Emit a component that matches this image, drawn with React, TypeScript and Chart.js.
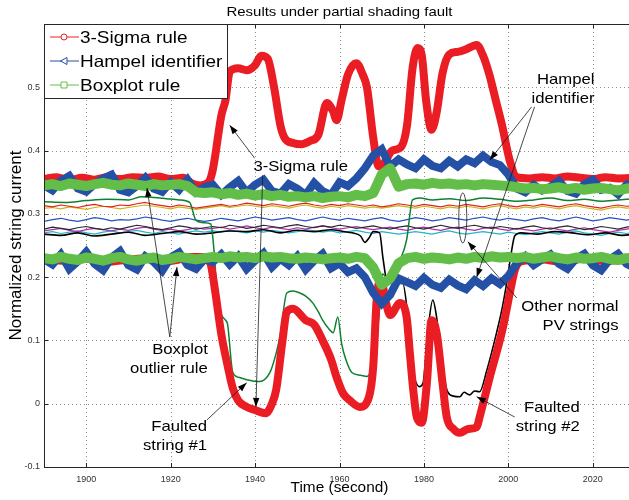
import React, { useEffect, useRef } from "react";
import { Chart, registerables } from "chart.js";

Chart.register(...registerables);

// ---------- shared 2-second time grid ----------
const seconds = [
  1890, 1892, 1894, 1896, 1898, 1900, 1902, 1904, 1906, 1908,
  1910, 1912, 1914, 1916, 1918, 1920, 1922, 1924, 1926, 1928,
  1930, 1932, 1934, 1936, 1938, 1940, 1942, 1944, 1946, 1948,
  1950, 1952, 1954, 1956, 1958, 1960, 1962, 1964, 1966, 1968,
  1970, 1972, 1974, 1976, 1978, 1980, 1982, 1984, 1986, 1988,
  1990, 1992, 1994, 1996, 1998, 2000, 2002, 2004, 2006, 2008,
  2010, 2012, 2014, 2016, 2018, 2020, 2022, 2024, 2026, 2028,
  2030,
];

// Boxplot rule bounds
const boxUpper = [
  .345, .347, .344, .348, .346, .344, .347, .349, .346, .345,
  .348, .346, .344, .347, .345, .346, .347, .344, .334, .333,
  .334, .331, .333, .330, .332, .329, .331, .328, .330, .327,
  .328, .326, .328, .325, .327, .328, .326, .330, .328, .333,
  .362, .372, .343, .347, .348, .346, .349, .347, .348, .346,
  .347, .345, .347, .346, .345, .344, .342, .340, .341, .339,
  .340, .342, .339, .341, .338, .340, .341, .339, .337, .340,
  .341,
];
const boxLower = [
  .230, .228, .232, .229, .227, .231, .229, .226, .230, .232,
  .228, .226, .229, .231, .227, .229, .232, .230, .228, .230,
  .232, .230, .233, .231, .232, .230, .233, .231, .232, .230,
  .229, .231, .230, .228, .230, .231, .229, .232, .230, .215,
  .188, .198, .222, .230, .232, .229, .231, .230, .228, .231,
  .229, .232, .230, .233, .231, .232, .230, .232, .229, .231,
  .233, .230, .228, .231, .229, .230, .232, .229, .227, .230,
  .231,
];

// Hampel identifier bounds
const hampelUpper = [
  .345, .337, .352, .360, .340, .335, .347, .356, .362, .338,
  .334, .344, .357, .340, .335, .350, .338, .354, .334, .342,
  .346, .330, .342, .352, .334, .346, .354, .336, .332, .347,
  .340, .330, .349, .336, .330, .350, .344, .356, .372, .392,
  .402, .375, .386, .378, .372, .386, .376, .372, .384, .375,
  .386, .380, .392, .382, .377, .362, .340, .334, .346, .337,
  .343, .352, .336, .332, .347, .354, .338, .341, .331, .346,
  .350,
];
const hampelLower = [
  .228, .220, .236, .213, .225, .240, .221, .211, .231, .241,
  .219, .212, .233, .224, .210, .231, .239, .219, .213, .228,
  .224, .236, .220, .233, .213, .226, .238, .216, .229, .219,
  .233, .212, .226, .237, .214, .222, .208, .214, .200, .175,
  .158, .172, .198, .192, .186, .199, .188, .183, .196, .187,
  .181, .195, .186, .198, .189, .202, .222, .233, .219, .228,
  .236, .221, .213, .229, .237, .219, .211, .228, .237, .221,
  .214,
];

// 3-Sigma rule bounds (own time knots)
const sigmaUpperTimes = [
  1890, 1893, 1896, 1899, 1902, 1905, 1908, 1911, 1914, 1917,
  1920, 1923, 1925, 1927, 1929, 1930, 1932, 1933, 1934, 1936,
  1938, 1940, 1941.5, 1943, 1944.5, 1946, 1947, 1949, 1951, 1953,
  1955, 1957, 1958.5, 1959.3, 1960.5, 1962, 1964, 1965.5, 1966.5, 1968,
  1969.3, 1970.5, 1972.5, 1974.5, 1976, 1977.3, 1978.5, 1979.5, 1980.5, 1981.8,
  1983, 1984.4, 1986, 1988, 1990, 1992.5, 1994, 1995.5, 1997, 1998.5,
  2000.3, 2002, 2005, 2008, 2011, 2014, 2017, 2020, 2023, 2026,
  2030,
];
const sigmaUpperValues = [
  .355, .358, .353, .357, .354, .358, .355, .358, .357, .359,
  .355, .357, .348, .345, .350, .370, .455, .480, .525, .530,
  .527, .535, .550, .545, .500, .440, .420, .412, .410, .415,
  .425, .475, .462, .448, .480, .520, .538, .520, .500, .420,
  .375, .380, .400, .405, .440, .530, .562, .550, .480, .433,
  .460, .522, .552, .556, .560, .567, .550, .520, .480, .440,
  .385, .358, .356, .358, .356, .359, .357, .355, .358, .356,
  .357,
];
const sigmaLowerTimes = [
  1890, 1895, 1900, 1905, 1910, 1915, 1920, 1925, 1928, 1929.5,
  1930.5, 1932, 1933.5, 1934.7, 1936, 1938, 1940, 1942.5, 1944, 1945,
  1946.5, 1947.5, 1949, 1952, 1954, 1956, 1958, 1959.3, 1960.8, 1962.5,
  1964.8, 1967, 1968, 1968.8, 1969.8, 1971, 1972, 1974.3, 1975.9, 1976.6,
  1977.5, 1978.3, 1979.5, 1980.7, 1981.8, 1983, 1984.4, 1985.4, 1987, 1988.5,
  1990.5, 1992.5, 1993.2, 1995.6, 1998.6, 2000.8, 2001.5, 2003, 2008, 2013,
  2018, 2023, 2030,
];
const sigmaLowerValues = [
  .228, .226, .229, .224, .228, .230, .226, .232, .232, .220,
  .180, .110, .060, .025, .005, -.005, -.010, -.015, .000, .022,
  .100, .145, .150, .132, .125, .100, .070, .042, .017, .005,
  -.005, .011, .060, .164, .196, .160, .140, .159, .137, .085,
  .020, -.021, -.030, .033, .132, .112, .033, -.021, -.040, -.046,
  -.040, -.037, -.021, .042, .117, .190, .211, .225, .228, .224,
  .229, .226, .228,
];

// Faulted strings (own time knots)
const faulted1Times = [
  1890, 1895, 1900, 1905, 1910, 1913, 1916, 1919, 1922, 1924.5,
  1926, 1928, 1929.5, 1930.3, 1931.2, 1932, 1933, 1933.5, 1934.7, 1936,
  1938, 1941, 1943.5, 1945, 1946, 1947.5, 1949, 1950.6, 1952, 1953.7,
  1955, 1956, 1957.5, 1958.5, 1959.6, 1960.5, 1961.5, 1963, 1965, 1966.5,
  1967.8, 1968.8, 1969.5, 1970.2, 1971.5, 1972.6, 1974, 1975.9, 1977.3, 1979,
  1982, 1986, 1990, 1994, 1998, 2002, 2006, 2010, 2014, 2018,
  2022, 2026, 2030,
];
const faulted1Values = [
  .319, .318, .321, .323, .322, .327, .326, .324, .322, .318,
  .290, .286, .284, .240, .155, .140, .132, .125, .050, .042,
  .038, .035, .049, .080, .110, .175, .178, .175, .170, .159,
  .145, .132, .118, .112, .137, .095, .070, .049, .045, .043,
  .060, .100, .150, .205, .195, .190, .220, .259, .322, .325,
  .322, .324, .321, .325, .323, .320, .322, .325, .321, .323,
  .320, .322, .324,
];
const faulted2Times = [
  1890, 1894, 1898, 1902, 1906, 1910, 1914, 1918, 1922, 1926,
  1930, 1934, 1938, 1942, 1946, 1950, 1954, 1958, 1961, 1963,
  1965, 1966, 1967, 1968, 1969.5, 1970.3, 1971.2, 1973, 1975, 1976.2,
  1977.3, 1979, 1979.8, 1980.9, 1982.1, 1983, 1984.4, 1985.6, 1987, 1988.5,
  1989.5, 1990.8, 1992, 1993.2, 1994.9, 1996, 1997.2, 1998.5, 1999.6, 2000.8,
  2001.5, 2003, 2007, 2011, 2015, 2019, 2023, 2027, 2030,
];
const faulted2Values = [
  .268, .266, .270, .265, .268, .271, .266, .269, .272, .268,
  .270, .273, .272, .275, .270, .274, .272, .275, .272, .270,
  .265, .255, .262, .272, .270, .230, .195, .190, .190, .137,
  .058, .027, .033, .112, .164, .137, .058, .019, .012, .011,
  .018, .014, .020, .019, .053, .080, .112, .150, .190, .243,
  .265, .270, .268, .272, .270, .267, .270, .266, .268,
];

// Other normal PV strings (2-second grid)
const normalRed = [
  .313, .311, .314, .312, .310, .313, .315, .312, .311, .314,
  .313, .316, .318, .315, .313, .311, .314, .312, .309, .311,
  .313, .315, .312, .314, .317, .315, .313, .316, .314, .312,
  .315, .317, .314, .312, .315, .313, .316, .314, .312, .314,
  .311, .313, .316, .314, .312, .315, .313, .311, .314, .312,
  .315, .313, .311, .314, .316, .313, .311, .314, .312, .315,
  .313, .311, .314, .316, .313, .311, .309, .312, .314, .312,
  .313,
];
const normalYellow = [
  .309, .310, .308, .311, .309, .307, .310, .312, .310, .308,
  .310, .312, .314, .312, .310, .308, .311, .309, .307, .309,
  .311, .313, .310, .312, .314, .312, .310, .313, .311, .309,
  .312, .314, .311, .309, .312, .310, .313, .311, .309, .311,
  .309, .311, .313, .311, .309, .312, .310, .308, .311, .309,
  .312, .310, .308, .311, .313, .310, .308, .311, .309, .312,
  .310, .308, .311, .313, .310, .308, .306, .309, .311, .309,
  .310,
];
const normalBlue = [
  .288, .291, .293, .290, .288, .291, .294, .292, .289, .291,
  .290, .292, .295, .293, .290, .288, .291, .293, .290, .288,
  .290, .293, .291, .289, .292, .295, .293, .290, .292, .294,
  .291, .289, .292, .295, .292, .290, .293, .291, .289, .292,
  .294, .290, .288, .291, .294, .292, .289, .291, .294, .292,
  .290, .293, .295, .292, .290, .293, .291, .289, .292, .294,
  .291, .289, .292, .295, .292, .289, .291, .294, .292, .290,
  .293,
];
const normalBlack = [
  .276, .279, .277, .275, .278, .280, .277, .275, .278, .276,
  .279, .282, .280, .277, .275, .278, .281, .279, .276, .278,
  .280, .278, .282, .280, .277, .279, .282, .280, .278, .281,
  .283, .280, .278, .281, .279, .282, .280, .277, .279, .281,
  .278, .276, .279, .281, .278, .276, .279, .282, .279, .277,
  .280, .282, .279, .277, .280, .278, .276, .279, .281, .278,
  .276, .279, .281, .278, .275, .277, .280, .278, .276, .279,
  .281,
];
const normalMagenta = [
  .273, .275, .277, .274, .272, .275, .277, .275, .273, .276,
  .274, .277, .279, .276, .274, .276, .273, .275, .278, .276,
  .277, .279, .276, .278, .281, .278, .276, .279, .277, .275,
  .278, .276, .279, .281, .278, .276, .278, .280, .277, .275,
  .277, .279, .276, .274, .277, .279, .276, .274, .277, .279,
  .276, .274, .277, .279, .276, .274, .277, .275, .273, .276,
  .278, .275, .273, .276, .278, .275, .273, .271, .274, .276,
  .278,
];
const normalCyan = [
  .270, .272, .269, .271, .273, .270, .268, .271, .273, .270,
  .272, .274, .271, .269, .272, .270, .268, .271, .273, .271,
  .273, .271, .274, .272, .270, .273, .271, .274, .272, .270,
  .272, .275, .273, .271, .273, .270, .272, .274, .271, .269,
  .272, .270, .268, .270, .272, .270, .268, .271, .273, .270,
  .268, .270, .272, .270, .268, .271, .269, .267, .270, .272,
  .270, .268, .271, .273, .270, .268, .266, .269, .271, .269,
  .271,
];

// Axes
const xTickValues = [1900, 1920, 1940, 1960, 1980, 2000, 2020];
const yTickValues = [-0.1, 0, 0.1, 0.2, 0.3, 0.4, 0.5];
const xRange = [1890, 2030];
const yRange = [-0.1, 0.6];

const chartTitle = "Results under partial shading fault";
const xTitle = "Time (second)";
const yTitle = "Normalized string current";

const legendLabels = ["3-Sigma rule", "Hampel identifier", "Boxplot rule"];

// Annotations in data coordinates
const noteTexts = [
  { lines: ["3-Sigma rule"], t: 1950.8, v: 0.374, align: "center" },
  { lines: ["Hampel", "identifier"], t: 2020.4, v: 0.5115, align: "right" },
  { lines: ["Boxplot", "outlier rule"], t: 1928.8, v: 0.085, align: "right" },
  { lines: ["Faulted", "string #1"], t: 1928.6, v: -0.0367, align: "right" },
  { lines: ["Other normal", "PV strings"], t: 2026.1, v: 0.153, align: "right" },
  { lines: ["Faulted", "string #2"], t: 2016.9, v: -0.0066, align: "right" },
];
const noteArrows = [
  [1939.9, 0.388, 1934.0, 0.44],
  [1941.8, 0.361, 1940.2, -0.005],
  [1919.8, 0.1055, 1914.4, 0.341],
  [1919.8, 0.1055, 1921.5, 0.216],
  [1928.6, -0.0256, 1938.0, 0.033],
  [2005.5, 0.469, 1995.6, 0.385],
  [2006.2, 0.469, 1992.5, 0.2],
  [2002.0, 0.167, 1990.4, 0.256],
  [2001.5, -0.021, 1992.5, 0.011],
];
const noteEllipse = { t: 1989.2, v: 0.2935 };

// ---------- styles ----------
const FONT = '"Liberation Sans", Arial, Helvetica, sans-serif';
const SIGMA = "#ea1c24";
const HAMPEL = "#2450a6";
const BOX = "#62be48";
const STRETCH = 1.15;

const gridPts = (vals: number[]) => seconds.map((t, i) => ({ x: t, y: vals[i] }));
const knotPts = (ts: number[], vals: number[]) => ts.map((t, i) => ({ x: t, y: vals[i] }));

const ds = (label: string, data: any[], color: string, width: number, smooth: boolean, join = "round") => ({
  label,
  data,
  borderColor: color,
  backgroundColor: color,
  borderWidth: width,
  pointRadius: 0,
  fill: false,
  tension: 0,
  cubicInterpolationMode: smooth ? "monotone" : "default",
  borderJoinStyle: join,
  borderCapStyle: "round",
});

function drawText(ctx: CanvasRenderingContext2D, text: string, x: number, y: number, size: number, align: string, sx: number) {
  ctx.save();
  ctx.font = `${size}px ${FONT}`;
  ctx.textBaseline = "middle";
  ctx.textAlign = "left";
  const w = ctx.measureText(text).width * sx;
  let x0 = x;
  if (align === "right") x0 = x - w;
  else if (align === "center") x0 = x - w / 2;
  ctx.translate(x0, y);
  ctx.scale(sx, 1);
  ctx.fillStyle = "#000";
  ctx.fillText(text, 0, 0);
  ctx.restore();
}

function drawArrow(ctx: CanvasRenderingContext2D, x1: number, y1: number, x2: number, y2: number) {
  ctx.beginPath();
  ctx.moveTo(x1, y1);
  ctx.lineTo(x2, y2);
  ctx.stroke();
  const ang = Math.atan2(y2 - y1, x2 - x1);
  const L = 9, W = 3.2;
  ctx.beginPath();
  ctx.moveTo(x2, y2);
  ctx.lineTo(x2 - L * Math.cos(ang) + W * Math.sin(ang), y2 - L * Math.sin(ang) - W * Math.cos(ang));
  ctx.lineTo(x2 - L * Math.cos(ang) - W * Math.sin(ang), y2 - L * Math.sin(ang) + W * Math.cos(ang));
  ctx.closePath();
  ctx.fill();
}

const decor = {
  id: "decor",
  beforeDraw(chart: any) {
    const c = chart.ctx;
    c.save();
    c.fillStyle = "#fff";
    c.fillRect(0, 0, chart.width, chart.height);
    c.restore();
  },
  beforeDatasetsDraw(chart: any) {
    const { ctx, chartArea: a, scales } = chart;
    ctx.save();
    ctx.strokeStyle = "#8c8c8c";
    ctx.lineWidth = 1;
    ctx.setLineDash([1, 3]);
    for (const t of xTickValues) {
      const p = Math.round(scales.x.getPixelForValue(t)) + 0.5;
      ctx.beginPath();
      ctx.moveTo(p, a.top);
      ctx.lineTo(p, a.bottom);
      ctx.stroke();
    }
    for (const v of yTickValues) {
      if (v <= yRange[0]) continue;
      const p = Math.round(scales.y.getPixelForValue(v)) + 0.5;
      ctx.beginPath();
      ctx.moveTo(a.left, p);
      ctx.lineTo(a.right, p);
      ctx.stroke();
    }
    ctx.restore();
  },
  afterDatasetsDraw(chart: any) {
    const { ctx, chartArea: a, scales } = chart;
    const X = (t: number) => scales.x.getPixelForValue(t);
    const Y = (v: number) => scales.y.getPixelForValue(v);

    // axes box and inner ticks
    ctx.save();
    ctx.strokeStyle = "#262626";
    ctx.lineWidth = 1;
    ctx.strokeRect(Math.round(a.left) + 0.5, Math.round(a.top) + 0.5, Math.round(a.right - a.left), Math.round(a.bottom - a.top));
    for (const t of xTickValues) {
      const p = Math.round(X(t)) + 0.5;
      ctx.beginPath();
      ctx.moveTo(p, a.bottom);
      ctx.lineTo(p, a.bottom - 4);
      ctx.moveTo(p, a.top);
      ctx.lineTo(p, a.top + 4);
      ctx.stroke();
    }
    for (const v of yTickValues) {
      const p = Math.round(Y(v)) + 0.5;
      ctx.beginPath();
      ctx.moveTo(a.left, p);
      ctx.lineTo(a.left + 4, p);
      ctx.stroke();
    }
    ctx.restore();

    // annotations
    ctx.save();
    ctx.strokeStyle = "#1a1a1a";
    ctx.fillStyle = "#000";
    ctx.lineWidth = 0.8;
    for (const [t1, v1, t2, v2] of noteArrows) drawArrow(ctx, X(t1), Y(v1), X(t2), Y(v2));
    ctx.beginPath();
    ctx.ellipse(X(noteEllipse.t), Y(noteEllipse.v), 4, 25, 0, 0, Math.PI * 2);
    ctx.stroke();
    ctx.restore();
    for (const n of noteTexts) {
      n.lines.forEach((ln, i) => drawText(ctx, ln, X(n.t), Y(n.v) + i * 19, 14.5, n.align, STRETCH));
    }

    // legend
    const lx = a.left, ly = a.top, lw = 183, lh = 74;
    ctx.save();
    ctx.fillStyle = "#fff";
    ctx.fillRect(lx, ly, lw, lh);
    ctx.strokeStyle = "#262626";
    ctx.lineWidth = 1;
    ctx.strokeRect(Math.round(lx) + 0.5, Math.round(ly) + 0.5, lw, lh);
    const colors = [SIGMA, HAMPEL, BOX];
    legendLabels.forEach((lab, i) => {
      const yy = ly + 13 + i * 24;
      const mx = lx + 20;
      ctx.strokeStyle = colors[i];
      ctx.lineWidth = 1;
      ctx.beginPath();
      ctx.moveTo(lx + 6, yy);
      ctx.lineTo(lx + 35, yy);
      ctx.stroke();
      ctx.fillStyle = "#fff";
      ctx.beginPath();
      if (i === 0) {
        ctx.arc(mx, yy, 3, 0, Math.PI * 2);
      } else if (i === 1) {
        ctx.moveTo(mx - 3.5, yy);
        ctx.lineTo(mx + 3, yy - 3.5);
        ctx.lineTo(mx + 3, yy + 3.5);
        ctx.closePath();
      } else {
        ctx.rect(mx - 3, yy - 3, 6, 6);
      }
      ctx.fill();
      ctx.stroke();
      drawText(ctx, lab, lx + 36, yy + 1, 16.5, "left", STRETCH);
    });
    ctx.restore();

    // titles
    const cx = (a.left + a.right) / 2;
    drawText(ctx, chartTitle, cx, 12, 13, "center", STRETCH);
    drawText(ctx, xTitle, cx, 488, 14, "center", 1.1);
    ctx.save();
    ctx.translate(16, (a.top + a.bottom) / 2);
    ctx.rotate(-Math.PI / 2);
    drawText(ctx, yTitle, 0, 0, 17, "center", 1);
    ctx.restore();
  },
};

export default function App() {
  const ref = useRef<HTMLCanvasElement>(null);
  useEffect(() => {
    if (!ref.current) return;
    const datasets = [
      ds("Boxplot upper", gridPts(boxUpper), BOX, 10, false),
      ds("Boxplot lower", gridPts(boxLower), BOX, 10, false),
      ds("Hampel upper", gridPts(hampelUpper), HAMPEL, 8, false, "miter"),
      ds("Hampel lower", gridPts(hampelLower), HAMPEL, 8, false, "miter"),
      ds("3-Sigma upper", knotPts(sigmaUpperTimes, sigmaUpperValues), SIGMA, 8, true),
      ds("3-Sigma lower", knotPts(sigmaLowerTimes, sigmaLowerValues), SIGMA, 8, true),
      ds("Faulted #1", knotPts(faulted1Times, faulted1Values), "#0e8032", 1.5, true),
      ds("Faulted #2", knotPts(faulted2Times, faulted2Values), "#000000", 1.6, true),
      ds("Normal red", gridPts(normalRed), "#e2231a", 1.2, false),
      ds("Normal yellow", gridPts(normalYellow), "#c9b51c", 1.2, false),
      ds("Normal blue", gridPts(normalBlue), "#2652c0", 1.2, false),
      ds("Normal black", gridPts(normalBlack), "#2a2a2a", 1.2, false),
      ds("Normal magenta", gridPts(normalMagenta), "#b42bb4", 1.2, false),
      ds("Normal cyan", gridPts(normalCyan), "#1fb9c6", 1.2, false),
    ];
    const chart = new Chart(ref.current, {
      type: "line",
      data: { datasets } as any,
      options: {
        animation: false,
        responsive: false,
        devicePixelRatio: 1,
        events: [],
        layout: { padding: { left: 0, right: 5, top: 24, bottom: 0 } },
        plugins: {
          legend: { display: false },
          title: { display: false },
          tooltip: { enabled: false },
        },
        scales: {
          x: {
            type: "linear",
            min: xRange[0],
            max: xRange[1],
            afterBuildTicks: (s: any) => { s.ticks = xTickValues.map((v) => ({ value: v })); },
            afterFit: (s: any) => { s.height = 33; },
            grid: { display: false, drawTicks: false },
            border: { display: false },
            ticks: {
              font: { size: 9, family: FONT },
              color: "#333",
              padding: 7,
              maxRotation: 0,
              autoSkip: false,
              callback: (v: any) => String(v),
            },
          },
          y: {
            type: "linear",
            min: yRange[0],
            max: yRange[1],
            afterBuildTicks: (s: any) => { s.ticks = yTickValues.map((v) => ({ value: v })); },
            afterFit: (s: any) => { s.width = 44; },
            grid: { display: false, drawTicks: false },
            border: { display: false },
            ticks: {
              font: { size: 9, family: FONT },
              color: "#333",
              padding: 4,
              autoSkip: false,
              callback: (v: any) => String(Math.round(Number(v) * 10) / 10),
            },
          },
        },
      } as any,
      plugins: [decor],
    });
    return () => chart.destroy();
  }, []);
  return (
    <div style={{ position: "absolute", left: 0, top: 0, width: 629, height: 500, overflow: "hidden", background: "#fff" }}>
      <canvas ref={ref} width={640} height={500} style={{ display: "block", width: 640, height: 500 }} />
    </div>
  );
}
